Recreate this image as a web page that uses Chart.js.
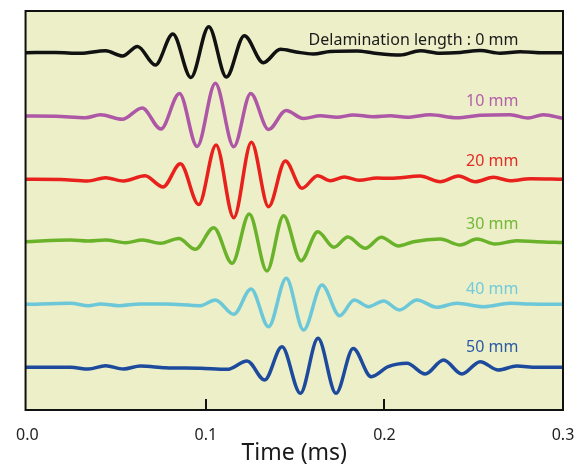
<!DOCTYPE html>
<html>
<head>
<meta charset="utf-8">
<script src="https://cdn.jsdelivr.net/npm/chart.js@4"></script>
<style>
  html, body { margin: 0; padding: 0; background: #ffffff; }
  #wrap { width: 577px; height: 465px; }
</style>
</head>
<body>
<div id="wrap"><canvas id="chart" width="577" height="465"></canvas></div>
<script>
// waveforms: time in ms, amplitude in arbitrary units
const labels = ['Delamination length : 0 mm', '10 mm', '20 mm', '30 mm', '40 mm', '50 mm'];
const offsets = [0, -64, -127, -189, -251, -315];
const xTicks = [0, 0.1, 0.2, 0.3];

const t0 = [-0.001, 0.0158, 0.0298, 0.0438, 0.0533, 0.0617, 0.0717, 0.0815, 0.0916, 0.1016, 0.1115, 0.1215, 0.1322, 0.1417, 0.1506, 0.1601, 0.1697, 0.1848, 0.1937, 0.2088, 0.2200, 0.2312, 0.2424, 0.2536, 0.2648, 0.2760, 0.2889, 0.300];
const a0 = [-0.2, 0, -0.8, 1.8, -3.5, 6, -12.5, 18.5, -25, 25.8, -24.5, 16.8, -10.2, 3.2, 0.5, -1.5, 1, 1.5, -0.5, -2.5, 1.8, -0.8, 0, 2, -0.8, 0.8, -0.2, -0.2];

const t10 = [-0.001, 0.0158, 0.0326, 0.0410, 0.0531, 0.0643, 0.0748, 0.0852, 0.0951, 0.1053, 0.1156, 0.1251, 0.1351, 0.1449, 0.1546, 0.1641, 0.1734, 0.1825, 0.1937, 0.2032, 0.2126, 0.2256, 0.2406, 0.2536, 0.2704, 0.2804, 0.2889, 0.300];
const a10 = [0.5, 0.3, -1.2, 1.8, -2.8, 8.5, -12.5, 23, -30, 33.2, -30.2, 23, -13, 6, -2, 0.8, -0.8, 1.5, -0.2, 0.8, -0.8, 1.8, -1.2, 1.2, 1.8, -1.5, 1.8, -1.8];

const t20 = [-0.001, 0.0186, 0.0337, 0.0438, 0.0538, 0.0659, 0.0760, 0.0857, 0.0960, 0.1057, 0.1156, 0.1255, 0.1351, 0.1445, 0.1538, 0.1626, 0.1697, 0.1775, 0.1859, 0.1958, 0.2033, 0.2200, 0.2312, 0.2415, 0.2508, 0.2611, 0.2704, 0.2816, 0.300];
const a20 = [0.2, 0, -1.5, 1.8, -1.5, 3.7, -7.5, 15.7, -25, 34.5, -38.2, 37.2, -27.2, 18.5, -8.8, 3.8, -1.2, 2.5, -0.8, 1.5, 1.2, 3.5, -2.2, 3.5, -2.2, 2.2, -1.2, 0.8, 0.2];

const t30 = [-0.001, 0.0242, 0.0342, 0.0438, 0.0550, 0.0645, 0.0745, 0.0848, 0.0941, 0.1044, 0.1147, 0.1243, 0.1342, 0.1435, 0.1533, 0.1627, 0.1717, 0.1795, 0.1893, 0.1982, 0.2079, 0.2163, 0.2312, 0.2424, 0.2518, 0.2620, 0.2741, 0.2853, 0.300];
const a30 = [-0.2, 1.5, 0.5, 1.5, -1.2, 1.5, -1.8, 3, -7.8, 13.8, -21.8, 27.5, -29.5, 25.8, -19.2, 9.8, -5.8, 4.5, -6.8, 4.2, -4.5, -0.2, 2.5, -3.5, 2.5, -2.5, 0.8, -0.2, -1];

const t40 = [-0.001, 0.0242, 0.0342, 0.0410, 0.0510, 0.0633, 0.0773, 0.0969, 0.1053, 0.1156, 0.1253, 0.1351, 0.1450, 0.1547, 0.1650, 0.1749, 0.1831, 0.1911, 0.1995, 0.2084, 0.2182, 0.2294, 0.2406, 0.2555, 0.2704, 0.2816, 0.300];
const a40 = [-0.8, 0.2, -2.2, -0.5, -2.2, -0.5, -0.5, -2.2, 3.5, -10.8, 14.5, -23.2, 25.2, -26.5, 18.5, -12.2, 3.5, -3.2, 2.5, -6.5, 3.5, -3.8, 0.2, -3.2, 0.2, -0.5, -0.8];

const t50 = [-0.001, 0.0242, 0.0342, 0.0438, 0.0538, 0.0633, 0.0773, 0.0969, 0.1119, 0.1231, 0.1329, 0.1426, 0.1529, 0.1628, 0.1729, 0.1825, 0.1926, 0.2021, 0.2126, 0.2228, 0.2331, 0.2434, 0.2536, 0.2638, 0.2741, 0.2853, 0.300];
const a50 = [0.2, 0.2, -1.5, 1.8, -1.5, 1.5, -0.2, -0.8, -1.8, 6.5, -12.5, 20.8, -25.8, 29.2, -25.8, 19, -9.2, 0.8, 4.2, -6.5, 7.5, -6.5, 5.8, -2.5, 1.5, 0.2, 0.2];

const times = [t0, t10, t20, t30, t40, t50];
const amps = [a0, a10, a20, a30, a40, a50];
const colors = ['#111111', '#ad57a6', '#e8211d', '#69b22a', '#6cc7d8', '#1d4a9c'];
const labelColors = ['#1a1a1a', '#b35fab', '#e52b24', '#72b836', '#72cbdc', '#2a5aa6'];
const labelRise = [12.5, 15, 18, 17.5, 14, 20];

const datasets = times.map((t, i) => ({
  label: labels[i],
  data: t.map((x, j) => ({ x: x, y: amps[i][j] + offsets[i] })),
  borderColor: colors[i],
  borderWidth: 3.5,
  pointRadius: 0,
  fill: false,
  cubicInterpolationMode: 'monotone'
}));

// fondo, marco, marcas del eje y etiquetas de cada traza
const framePlugin = {
  id: 'frame',
  beforeDraw(chart) {
    const { ctx, chartArea: a } = chart;
    ctx.save();
    ctx.fillStyle = '#ecefc8';
    ctx.fillRect(a.left, a.top, a.right - a.left, a.bottom - a.top);
    ctx.restore();
  },
  afterDraw(chart) {
    const { ctx, chartArea: a } = chart;
    const xs = chart.scales.x, ys = chart.scales.y;
    ctx.save();
    ctx.strokeStyle = '#111111';
    ctx.lineWidth = 2;
    ctx.strokeRect(a.left, a.top, a.right - a.left, a.bottom - a.top);
    [0.1, 0.2].forEach(v => {
      const px = Math.round(xs.getPixelForValue(v));
      ctx.beginPath();
      ctx.moveTo(px, a.bottom);
      ctx.lineTo(px, a.bottom - 11);
      ctx.stroke();
    });
    ctx.font = '16px "Noto Sans", sans-serif';
    ctx.textAlign = 'right';
    ctx.textBaseline = 'middle';
    labels.forEach((txt, i) => {
      ctx.fillStyle = labelColors[i];
      ctx.fillText(txt, xs.getPixelForValue(0.275), ys.getPixelForValue(offsets[i] + labelRise[i]));
    });
    ctx.restore();
  }
};

const ctx = document.getElementById('chart').getContext('2d');
const myChart = new Chart(ctx, {
  type: 'line',
  data: { datasets: datasets },
  options: {
    responsive: false,
    animation: false,
    layout: { padding: { left: 25, right: 0, top: 11, bottom: 0 } },
    plugins: { legend: { display: false }, tooltip: { enabled: false } },
    scales: {
      x: {
        type: 'linear',
        min: -0.001,
        max: 0.3,
        afterBuildTicks: s => { s.ticks = xTicks.map(v => ({ value: v })); },
        afterFit: s => { s.height = 55; s.paddingRight = 14; },
        grid: { display: false, drawTicks: false },
        border: { display: false },
        ticks: {
          padding: 16,
          color: '#222222',
          font: { family: '"Noto Sans", sans-serif', size: 16 },
          callback: v => v.toFixed(1)
        },
        title: {
          display: true,
          text: 'Time (ms)',
          color: '#1a1a1a',
          font: { family: '"Noto Sans", sans-serif', size: 23, lineHeight: 1 },
          padding: { top: 0, bottom: 0 }
        }
      },
      y: {
        display: false,
        min: -357.5,
        max: 41.5
      }
    }
  },
  plugins: [framePlugin]
});
</script>
</body>
</html>
